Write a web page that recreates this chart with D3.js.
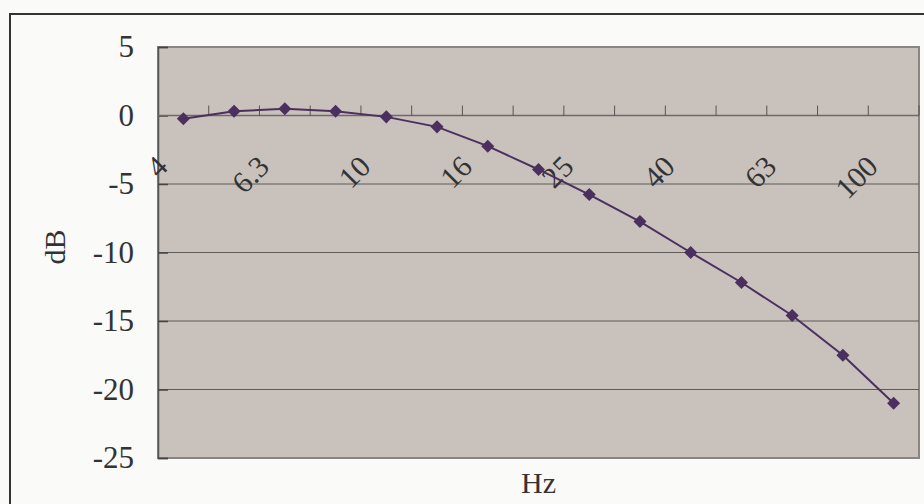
<!DOCTYPE html>
<html>
<head>
<meta charset="utf-8">
<script src="https://cdn.jsdelivr.net/npm/d3@7"></script>
<style>
  body { margin: 0; background: #fafaf8; }
  text { font-family: "Liberation Serif", "Times New Roman", serif; fill: #333; }
</style>
</head>
<body>
<div id="chart"></div>
<script>
// frequency bands (Hz) and measured response (dB)
const categories = ["4", "5", "6.3", "8", "10", "12.5", "16", "20", "25", "31.5", "40", "50", "63", "80", "100"];
const values = [-0.24, 0.31, 0.49, 0.31, -0.1, -0.83, -2.24, -3.94, -5.77, -7.74, -10.0, -12.19, -14.6, -17.5, -21.0];
const labelledCategories = ["4", "6.3", "10", "16", "25", "40", "63", "100"];
const yTicks = [5, 0, -5, -10, -15, -20, -25];

const W = 924, H = 504;
const margin = {left: 158, right: 5, top: 47, bottom: 46};
const width = W - margin.left - margin.right;
const height = H - margin.top - margin.bottom;

const svg = d3.select("#chart").append("svg")
    .attr("width", W)
    .attr("height", H);

// outer chart border (only top and left visible in the frame)
svg.append("path")
    .attr("d", "M10," + (H + 5) + " V14 H" + (W + 5))
    .attr("fill", "none")
    .attr("stroke", "#333")
    .attr("stroke-width", 2);

const g = svg.append("g")
    .attr("transform", "translate(" + margin.left + "," + margin.top + ")");

const xScale = d3.scaleBand().domain(categories).range([0, width]).padding(0);
const yScale = d3.scaleLinear().domain([-25, 5]).range([height, 0]);

// plot area
g.append("rect")
    .attr("width", width)
    .attr("height", height)
    .attr("fill", "#c9c1bc")
    .attr("stroke", "#8a8582")
    .attr("stroke-width", 2);

// horizontal gridlines
g.selectAll("line.yGrid")
    .data(yTicks.filter(d => d != 5 && d != -25 && d != 0))
    .join("line")
    .attr("class", "yGrid")
    .attr("x1", 0)
    .attr("x2", width)
    .attr("y1", d => yScale(d))
    .attr("y2", d => yScale(d))
    .attr("stroke", "#5e5a58")
    .attr("stroke-width", 1);

// y axis
const yAxis = g.append("g")
    .call(d3.axisLeft(yScale).tickValues(yTicks).tickSize(-10).tickPadding(24).tickFormat(d => d));
yAxis.select(".domain").attr("stroke", "#555").attr("stroke-width", 1.5);
yAxis.selectAll(".tick line").attr("stroke", "#444").attr("stroke-width", 1.5);
yAxis.selectAll(".tick text")
    .style("font-size", "31px")
    .attr("fill", "#333");

// x axis crossing at 0 dB, ticks between categories
const x0 = yScale(0);
g.append("line")
    .attr("x1", 0).attr("x2", width)
    .attr("y1", x0).attr("y2", x0)
    .attr("stroke", "#6e6a68")
    .attr("stroke-width", 1.5);

g.selectAll("line.xTick")
    .data(categories.slice(1).concat(["end"]))
    .join("line")
    .attr("class", "xTick")
    .attr("x1", d => d == "end" ? width : xScale(d))
    .attr("x2", d => d == "end" ? width : xScale(d))
    .attr("y1", x0)
    .attr("y2", x0 - 10)
    .attr("stroke", "#555")
    .attr("stroke-width", 1);

g.selectAll("text.xLabel")
    .data(labelledCategories)
    .join("text")
    .attr("class", "xLabel")
    .attr("text-anchor", "end")
    .attr("transform", d => "translate(" + (xScale(d) + xScale.bandwidth() / 2 - 14) + "," + (x0 + 53) + ") rotate(-45)")
    .style("font-size", "30px")
    .text(d => d);

// line and diamond markers
const line = d3.line()
    .x((d, i) => xScale(categories[i]) + xScale.bandwidth() / 2)
    .y(d => yScale(d));

g.append("path")
    .datum(values)
    .attr("d", line)
    .attr("fill", "none")
    .attr("stroke", "#4b2f5f")
    .attr("stroke-width", 2);

g.selectAll("path.marker")
    .data(values)
    .join("path")
    .attr("class", "marker")
    .attr("d", d3.symbol().type(d3.symbolSquare).size(85))
    .attr("transform", (d, i) => "translate(" + (xScale(categories[i]) + xScale.bandwidth() / 2) + "," + yScale(d) + ") rotate(45)")
    .attr("fill", "#4b2f5f");

// axis titles
svg.append("text")
    .attr("x", margin.left + width / 2)
    .attr("y", 493)
    .attr("text-anchor", "middle")
    .style("font-size", "30px")
    .text("Hz");

svg.append("text")
    .attr("transform", "translate(65,247) rotate(-90)")
    .attr("text-anchor", "middle")
    .style("font-size", "30px")
    .text("dB");
</script>
</body>
</html>
